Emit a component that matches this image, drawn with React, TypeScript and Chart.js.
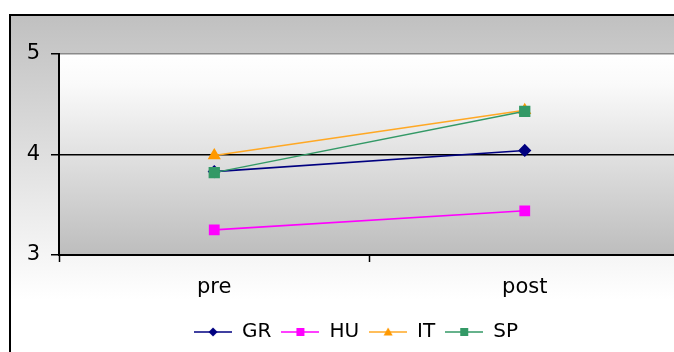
import React, { useEffect, useRef } from "react";
import { Chart, registerables } from "chart.js";

Chart.register(...registerables);

const categories = ["pre", "post"];
const seriesNames = ["GR", "HU", "IT", "SP"];
const grValues = [3.83, 4.04];
const huValues = [3.25, 3.44];
const itValues = [3.99, 4.44];
const spValues = [3.82, 4.43];
const yTickValues = [3, 4, 5];

const FONT = "'DejaVu Sans', Verdana, sans-serif";
const CANVAS_W = 700;
const CANVAS_H = 352;

function legendIcon(kind: string, lineColor: string, markerColor: string) {
  const c = document.createElement("canvas");
  c.width = 38;
  c.height = 14;
  const g = c.getContext("2d")!;
  g.strokeStyle = lineColor;
  g.lineWidth = 1.5;
  g.beginPath();
  g.moveTo(0, 7);
  g.lineTo(38, 7);
  g.stroke();
  g.fillStyle = markerColor;
  g.beginPath();
  if (kind === "diamond") {
    g.moveTo(19, 2.5);
    g.lineTo(23.5, 7);
    g.lineTo(19, 11.5);
    g.lineTo(14.5, 7);
    g.closePath();
    g.fill();
  } else if (kind === "triangle") {
    g.moveTo(19, 2.5);
    g.lineTo(23.5, 10.5);
    g.lineTo(14.5, 10.5);
    g.closePath();
    g.fill();
  } else {
    g.fillRect(15, 3, 8, 8);
  }
  return c;
}

const framePlugin = {
  id: "frameBg",
  afterLayout(chart: any) {
    // centre the legend within the outer frame (frame spans past the right edge)
    const lg = chart.legend;
    if (lg) {
      lg.left += 11;
      lg.right += 11;
      if (lg.adjustHitBoxes) lg.adjustHitBoxes();
    }
  },
  beforeDraw(chart: any) {
    const { ctx, chartArea } = chart;
    const w = chart.width;
    const h = chart.height;
    ctx.save();
    ctx.fillStyle = "#ffffff";
    ctx.fillRect(0, 0, w, h);
    const fg = ctx.createLinearGradient(0, 15, 0, 300);
    fg.addColorStop(0, "#c0c0c0");
    fg.addColorStop(1, "#ffffff");
    ctx.fillStyle = fg;
    ctx.fillRect(10, 15, w - 10, h - 15);
    const pg = ctx.createLinearGradient(0, chartArea.top, 0, chartArea.bottom);
    pg.addColorStop(0, "#ffffff");
    pg.addColorStop(0.15, "#fafafa");
    pg.addColorStop(1, "#bdbdbd");
    ctx.fillStyle = pg;
    ctx.fillRect(chartArea.left, chartArea.top, chartArea.right - chartArea.left, chartArea.bottom - chartArea.top);
    ctx.strokeStyle = "#000000";
    ctx.lineWidth = 2;
    ctx.beginPath();
    ctx.moveTo(10, h + 5);
    ctx.lineTo(10, 15);
    ctx.lineTo(w + 5, 15);
    ctx.stroke();
    ctx.restore();
  },
};

export default function App() {
  const ref = useRef<HTMLCanvasElement>(null);

  useEffect(() => {
    const icons = [
      legendIcon("diamond", "#000080", "#000080"),
      legendIcon("square", "#ff00ff", "#ff00ff"),
      legendIcon("triangle", "#ffa824", "#ff9900"),
      legendIcon("square", "#339966", "#339966"),
    ];
    const chart = new Chart(ref.current!, {
      type: "line",
      data: {
        labels: categories,
        datasets: [
          {
            label: seriesNames[0],
            data: grValues,
            borderColor: "#000080",
            backgroundColor: "#000080",
            pointBackgroundColor: "#000080",
            pointBorderColor: "#000080",
            pointStyle: "rectRot",
            pointRadius: 5.5,
            borderWidth: 1.6,
            order: 4,
          },
          {
            label: seriesNames[1],
            data: huValues,
            borderColor: "#ff00ff",
            backgroundColor: "#ff00ff",
            pointBackgroundColor: "#ff00ff",
            pointBorderColor: "#ff00ff",
            pointStyle: "rect",
            pointRadius: 6.5,
            borderWidth: 1.6,
            order: 3,
          },
          {
            label: seriesNames[2],
            data: itValues,
            borderColor: "#ffa824",
            backgroundColor: "#ff9900",
            pointBackgroundColor: "#ff9900",
            pointBorderColor: "#ff9900",
            pointStyle: "triangle",
            pointRadius: 6,
            borderWidth: 1.6,
            order: 2,
          },
          {
            label: seriesNames[3],
            data: spValues,
            borderColor: "#339966",
            backgroundColor: "#339966",
            pointBackgroundColor: "#339966",
            pointBorderColor: "#339966",
            pointStyle: "rect",
            pointRadius: 7,
            borderWidth: 1.4,
            order: 1,
          },
        ],
      },
      options: {
        responsive: false,
        animation: false,
        devicePixelRatio: 1,
        layout: { padding: { left: 10, right: 20, top: 54, bottom: 0 } },
        scales: {
          x: {
            type: "category",
            offset: true,
            afterFit: (s: any) => {
              s.height = 57;
            },
            grid: {
              offset: true,
              drawOnChartArea: false,
              drawTicks: true,
              tickLength: 7,
              tickColor: "#000000",
              tickWidth: 1.5,
            },
            border: { display: true, color: "#000000", width: 2 },
            ticks: {
              padding: 13,
              color: "#000000",
              font: { family: FONT, size: 21 },
            },
          },
          y: {
            type: "linear",
            min: yTickValues[0],
            max: yTickValues[yTickValues.length - 1],
            afterBuildTicks: (s: any) => {
              s.ticks = yTickValues.map((v) => ({ value: v }));
            },
            afterFit: (s: any) => {
              s.width = 49;
            },
            grid: {
              drawOnChartArea: true,
              drawTicks: true,
              tickLength: 8,
              tickColor: "#000000",
              tickWidth: 1.5,
              color: (c: any) => (c.tick && c.tick.value === 5 ? "#8a8a8a" : "#000000"),
              lineWidth: 1.5,
            },
            border: { display: true, color: "#000000", width: 2 },
            ticks: {
              padding: 11,
              color: "#000000",
              font: { family: FONT, size: 21 },
            },
          },
        },
        plugins: {
          tooltip: { enabled: false },
          legend: {
            display: true,
            position: "bottom",
            labels: {
              usePointStyle: true,
              pointStyleWidth: 38,
              padding: 10,
              color: "#000000",
              font: { family: FONT, size: 20 },
              generateLabels: () =>
                seriesNames.map((name, i) => ({
                  text: name,
                  pointStyle: icons[i] as any,
                  fillStyle: "#000",
                  strokeStyle: "#000",
                  lineWidth: 0,
                  hidden: false,
                  datasetIndex: i,
                  fontColor: "#000000",
                })),
            },
          },
        },
      },
      plugins: [framePlugin],
    } as any);
    return () => chart.destroy();
  }, []);

  return (
    <div
      style={{
        position: "absolute",
        left: 0,
        top: 0,
        width: 674,
        height: 352,
        overflow: "hidden",
        background: "#ffffff",
      }}
    >
      <canvas ref={ref} width={CANVAS_W} height={CANVAS_H} style={{ display: "block", width: CANVAS_W, height: CANVAS_H }} />
    </div>
  );
}
